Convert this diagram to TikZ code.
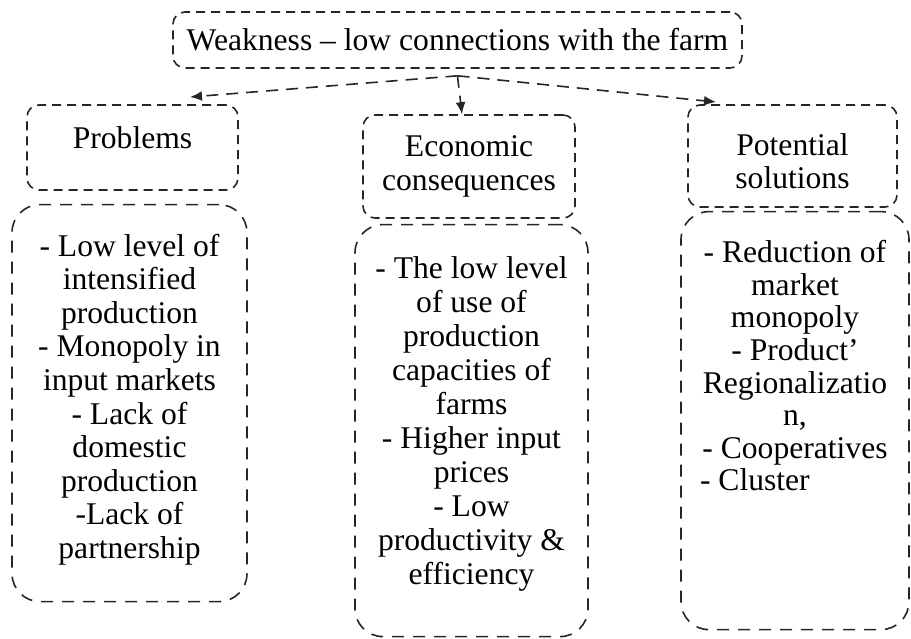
\documentclass[tikz,border=0pt]{standalone}
\usepackage{fontspec}
\setmainfont{Liberation Serif}[Ligatures=TeX]
\usepackage{tikz}
\usetikzlibrary{positioning,arrows.meta}
\tikzset{>={Latex[length=6pt,width=5pt]}}
\tikzset{
    headbox/.style={draw=black!85, line width=0.8pt, dash pattern=on 4.5pt off 3pt,
        rounded corners=6pt, align=center, inner sep=0pt},
    listbox/.style={draw=black!85, line width=0.8pt, dash pattern=on 6pt off 4.5pt,
        rounded corners=14pt, align=center, inner sep=0pt},
    flow/.style={->, draw=black!85, line width=0.8pt, dash pattern=on 6pt off 4pt}
}

\begin{document}
\begin{tikzpicture}[x=0.5pt, y=-0.5pt, font=\rmfamily\fontsize{15.8pt}{16.8pt}\selectfont]
    \useasboundingbox (0,0) rectangle (911,638);
    % set up the nodes
    \node[headbox, minimum width=284.5pt, minimum height=28pt] (weak) at (457.5,40)
        {Weakness -- low connections with the farm};
    \node[headbox, minimum width=105.5pt, minimum height=42.5pt] (prob) at (132.5,147.5)
        {Problems\rule[-10pt]{0pt}{0pt}};
    \node[headbox, minimum width=106pt, minimum height=51.5pt] (econ) at (469,166.5)
        {Economic\\consequences};
    \node[headbox, minimum width=104.5pt, minimum height=51pt] (sol) at (792.5,156)
        {\rule{0pt}{16pt}Potential\\solutions};
    \node[listbox, minimum width=117.5pt, minimum height=198.5pt, below=6.5pt of prob, xshift=-1.5pt] (problist)
        {- Low level of\\intensified\\production\\- Monopoly in\\input markets\\- Lack of\\domestic\\production\\-Lack of\\partnership\rule[-7pt]{0pt}{0pt}};
    \node[listbox, minimum width=116.5pt, minimum height=206pt, below=2.5pt of econ, xshift=1.25pt,
        font=\rmfamily\fontsize{15.8pt}{17pt}\selectfont] (econlist)
        {- The low level\\of use of\\production\\capacities of\\farms\\- Higher input\\prices\\- Low\\productivity \&\\efficiency\rule[-10pt]{0pt}{0pt}};
    \node[listbox, minimum width=114pt, minimum height=209pt, below=1.5pt of sol, xshift=1.25pt,
        font=\rmfamily\fontsize{15.8pt}{16.3pt}\selectfont] (sollist)
        {- Reduction of\\market\\monopoly\\- Product'\\Regionalizatio\\n,\\- Cooperatives\\\makebox[95pt][l]{- Cluster}\rule[-55pt]{0pt}{0pt}};
    % draw arrows between them
    \coordinate (split) at ([yshift=-3.5pt]weak.south);
    \coordinate (probin) at (190,97);
    \coordinate (solin) at (716,102);
    \draw[flow] (split) -- (probin);
    \draw[flow] (split) -- ([xshift=-3.5pt]econ.north);
    \draw[flow] (split) -- (solin);
\end{tikzpicture}
\end{document}
